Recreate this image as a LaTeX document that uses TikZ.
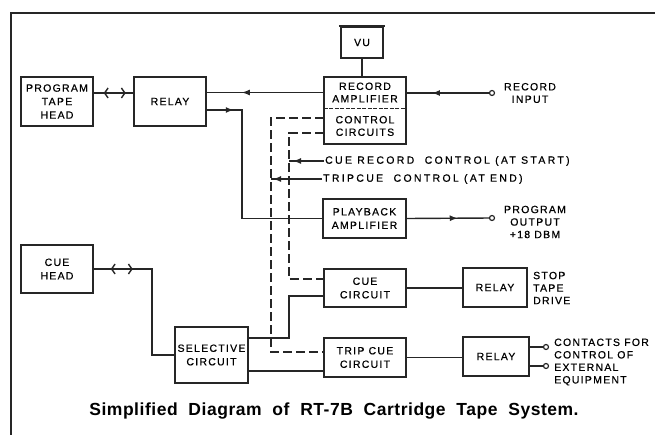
\documentclass[tikz,border=0pt]{standalone}
\usepackage{fontspec}
\newfontfamily\lblfont[LetterSpace=12,FakeBold=0.6]{Liberation Sans}
\newfontfamily\widefont[LetterSpace=22,FakeBold=0.6]{Liberation Sans}
\newfontfamily\capfont[LetterSpace=3]{Liberation Sans}
\usetikzlibrary{arrows.meta,positioning,fit,decorations.markings}
\definecolor{Ink}{HTML}{262626}

\begin{document}
\begin{tikzpicture}[x=1pt,y=-1pt,
  line/.style={draw=Ink,line width=1.4pt},
  dashline/.style={line,dash pattern=on 9pt off 4pt},
  blk/.style={draw=Ink,line width=1.5pt,align=center,inner sep=0pt,font=\lblfont\fontsize{10.5}{13.5}\selectfont},
  txt/.style={align=center,inner sep=0pt,font=\lblfont\fontsize{10.5}{12.5}\selectfont},
  lbl/.style={align=left,inner sep=1pt,font=\lblfont\fontsize{10.5}{12.5}\selectfont},
  term/.style={circle,draw=Ink,line width=1.2pt,fill=white,inner sep=0pt,minimum size=5pt},
  arrowat/.style={postaction={decorate},decoration={markings,mark=at position #1 with {\arrow{Latex[length=8pt,width=6pt]}}}},
  chev/.style 2 args={postaction={decorate},decoration={markings,
    mark=at position #1 with {\arrowreversed{Straight Barb[length=3.5pt,width=10pt,line width=1.4pt]}},
    mark=at position #2 with {\arrow{Straight Barb[length=3.5pt,width=10pt,line width=1.4pt]}}}}
]
\useasboundingbox (0,0) rectangle (655,435);
\draw[Ink,line width=1.8pt] (11,435) -- (11,13) -- (655,13);

\node[blk,minimum width=72,minimum height=49] (pth) at (57,101.5) {PROGRAM\\TAPE\\HEAD};
\node[blk,minimum width=72,minimum height=49] (relayA) at (170,101.5) {RELAY};
\node[blk,minimum width=42,minimum height=31] (vu) at (362,42.5) {VU};
\node[txt,minimum width=82,minimum height=31] (recamp) at (365,92.5) {RECORD\\AMPLIFIER};
\node[txt,minimum width=82,minimum height=36] (ctrl) at (365,126) {CONTROL\\CIRCUITS};
\node[draw=Ink,line width=1.5pt,inner sep=0pt,fit=(recamp)(ctrl)] (recbox) {};
\node[blk,minimum width=83,minimum height=39] (pbamp) at (364.5,218.5) {PLAYBACK\\AMPLIFIER};
\node[blk,minimum width=72,minimum height=48] (cuehead) at (57,269) {CUE\\HEAD};
\node[blk,minimum width=73,minimum height=56] (selc) at (211.5,355) {SELECTIVE\\CIRCUIT};
\node[blk,minimum width=82,minimum height=38] (cuec) at (365,288) {CUE\\CIRCUIT};
\node[blk,minimum width=64,minimum height=39] (relayB) at (495,287.5) {RELAY};
\node[blk,minimum width=82,minimum height=39] (tripc) at (365,357.5) {TRIP CUE\\CIRCUIT};
\node[blk,minimum width=66,minimum height=39] (relayC) at (496,356.5) {RELAY};

\node[term] (recin) at (492,93) {};
\node[term] (pbout) at (492,218) {};
\node[term] (ctA) at (546,347) {};
\node[term] (ctB) at (546,366) {};
\coordinate (busA) at (271,0);
\coordinate (busB) at (289,0);
\coordinate (relayLeg) at (242,0);
\coordinate (cueLeg) at (152,0);

\node[txt] (recinlbl) at (530,93) {RECORD\\INPUT};
\node[txt] (pboutlbl) at (535,222) {PROGRAM\\OUTPUT\\+18 DBM};
\node[lbl,anchor=west] (stoplbl) at (532,288) {STOP\\TAPE\\DRIVE};
\node[lbl,anchor=west] (ctlbl) at (553,362) {CONTACTS FOR\\CONTROL OF\\EXTERNAL\\EQUIPMENT};
\node[lbl,font=\widefont\fontsize{10.5}{12.5}\selectfont,anchor=west] (crc) at (324,161) {CUE RECORD\ \ CONTROL (AT START)};
\node[lbl,font=\widefont\fontsize{10.5}{12.5}\selectfont,anchor=west] (tcc) at (322,179) {TRIPCUE\ \ CONTROL (AT END)};
\node[inner sep=0pt,font=\capfont\bfseries\fontsize{17.5}{20}\selectfont] (caption) at (334,411) {Simplified\ \ Diagram\ \ of\ \ RT-7B\ \ Cartridge\ \ Tape\ \ System.};

\draw[Ink,line width=0.9pt,dash pattern=on 4pt off 1.5pt] (recamp.south west) -- (recamp.south east);
\draw[line] (vu.south) -- (recbox.north -| vu.south);
\draw[Ink,line width=2.4pt] ([xshift=-1.5pt]vu.north west) -- ([xshift=1.5pt]vu.north east);
\draw[line,chev={10pt}{32pt}] (pth.east |- recin) -- (relayA.west |- recin);
\draw[line,arrowat=57pt] (recin) -- (recin -| recbox.east);
\draw[line,arrowat=82pt] (recamp.west) -- (recamp.west -| relayA.east);
\draw[line,arrowat=27pt] ([yshift=-8.5pt]relayA.east) -- ([yshift=-8.5pt]relayA.east -| relayLeg) |- (pbamp.west);
\draw[line,arrowat=51pt] (pbamp.east) -- (pbout);
\draw[dashline] ([yshift=8pt]ctrl.west) -- ([yshift=8pt]ctrl.west -| busA) |- ([yshift=5.5pt]tripc.west);
\draw[dashline] ([yshift=-7pt]ctrl.west) -- ([yshift=-7pt]ctrl.west -| busB) |- ([yshift=9pt]cuec.west);
\draw[line,arrowat=31pt] (crc.west) -- (crc.west -| busB);
\draw[line,arrowat=49pt] (tcc.west) -- (tcc.west -| busA);
\draw[line,chev={17pt}{39pt}] (cuehead.east) -- (cuehead.east -| cueLeg) |- (selc.west);
\draw[line] ([yshift=17pt]selc.east) -- ([yshift=17pt]selc.east -| busB) |- ([yshift=-8pt]cuec.west);
\draw[line] ([yshift=-16pt]selc.east) -- ([yshift=-16pt]selc.east -| tripc.west);
\draw[line] (cuec.east) -- (cuec.east -| relayB.west);
\draw[line] (tripc.east) -- (tripc.east -| relayC.west);
\draw[line] ([yshift=9.5pt]relayC.east) -- (ctA);
\draw[line] ([yshift=-9.5pt]relayC.east) -- (ctB);
\end{tikzpicture}
\end{document}
